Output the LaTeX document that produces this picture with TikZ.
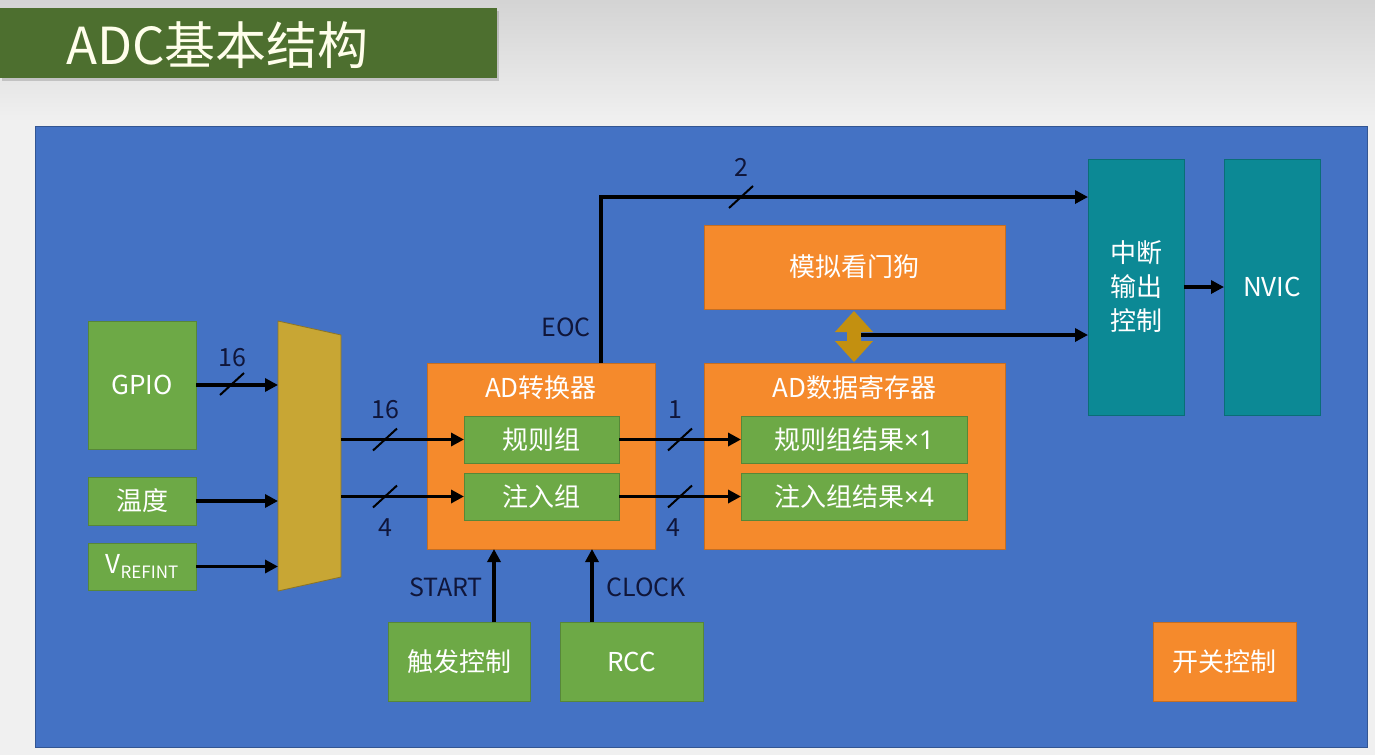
\documentclass[tikz,border=0pt]{standalone}
\usepackage{fontspec}
\setmainfont{Noto Sans CJK SC}
\newfontfamily\latinfont{Noto Sans}
\usetikzlibrary{arrows.meta,shadows}

\definecolor{panelblue}{HTML}{4472C4}
\definecolor{adcgreen}{HTML}{6DA946}
\definecolor{adcorange}{HTML}{F58A2C}
\definecolor{adcteal}{HTML}{0C8995}
\definecolor{muxgold}{HTML}{C8A634}
\definecolor{dblgold}{HTML}{C39010}
\definecolor{titlegreen}{HTML}{4D6F2F}
\definecolor{lbldark}{HTML}{10163A}

\begin{document}
\begin{tikzpicture}[x=1pt,y=-1pt,
  every node/.style={inner sep=0pt, outer sep=0pt, text=white, font=\fontsize{26}{30}\selectfont},
  box/.style={draw=#1!80!black, line width=0.8pt, fill=#1},
  greenbox/.style={box=adcgreen},
  orangebox/.style={box=adcorange},
  tealbox/.style={box=adcteal},
  lbl/.style={text=lbldark, font=\fontsize{25}{30}\selectfont},
  arr/.style={line width=3.8pt, draw=black, -{Triangle[length=13pt,width=13pt]}},
  slashmark/.pic={\draw[line width=2pt, black] (-12,11) -- (12,-11);}]
            \useasboundingbox (0,0) rectangle (1375,755);
            % background and title
            \shade[top color=black!17, bottom color=black!6] (0,0) rectangle (1375,120);
            \fill[black!6] (0,120) rectangle (1375,755);
            \fill[titlegreen, drop shadow={shadow xshift=2pt, shadow yshift=-3pt, opacity=.35}] (0,8) rectangle (497,78);
            \node[anchor=west, text=white!92!yellow, font=\fontsize{51}{55}\selectfont] (title) at (66,45) {ADC基本结构};
            \fill[panelblue, draw=panelblue!75!black, line width=1pt] (35,126) rectangle (1367,747);
            % inputs
            \node[greenbox, minimum width=108, minimum height=128] (gpio) at (142,385) {GPIO};
            \node[greenbox, minimum width=108, minimum height=48] (temp) at (142,501) {温度};
            \node[greenbox, minimum width=108, minimum height=47] (vref) at (142,566.5) {V\raisebox{-5pt}{\fontsize{17}{17}\selectfont REFINT}};
            % multiplexer
            \fill[muxgold, draw=muxgold!70!black, line width=0.8pt] (278,321) -- (341,335) -- (341,577) -- (278,591) -- cycle;
            \coordinate (muxl) at (278,456);
            \coordinate (muxr) at (341,456);
            % converter
            \node[orangebox, minimum width=228, minimum height=186] (conv) at (541,456) {};
            \node (convtitle) at (541,388) {AD转换器};
            \node[greenbox, minimum width=155, minimum height=47] (rule) at (541.5,439.5) {规则组};
            \node[greenbox, minimum width=155, minimum height=47] (inj) at (541.5,496.5) {注入组};
            % data register
            \node[orangebox, minimum width=301, minimum height=186] (reg) at (854.5,456) {};
            \node (regtitle) at (854.5,388) {AD数据寄存器};
            \node[greenbox, minimum width=226, minimum height=47] (ruleres) at (854,439.5) {规则组结果{\latinfont ×1}};
            \node[greenbox, minimum width=226, minimum height=47] (injres) at (854,496.5) {注入组结果{\latinfont ×4}};
            \node[orangebox, minimum width=301, minimum height=84] (wd) at (854.5,267) {模拟看门狗};
            % interrupt
            \node[tealbox, minimum width=96, minimum height=256, align=center, font=\fontsize{26}{34}\selectfont] (ctrl) at (1136,287) {中断\\输出\\控制};
            \node[tealbox, minimum width=96, minimum height=256] (nvic) at (1272,287) {NVIC};
            % bottom row
            \node[greenbox, minimum width=142, minimum height=79] (trig) at (459,661.5) {触发控制};
            \node[greenbox, minimum width=143, minimum height=79] (rcc) at (631.5,661.5) {RCC};
            \node[orangebox, minimum width=143, minimum height=79] (sw) at (1224.5,661.5) {开关控制};
            % watchdog link
            \fill[dblgold] (854,311) -- (873,332) -- (861,332) -- (861,341) -- (873,341) -- (854,362)
                -- (835,341) -- (847,341) -- (847,332) -- (835,332) -- cycle;
            \coordinate (wdout) at (861,335);
            % connectors
            \draw[arr] (gpio.east) -- (gpio.east -| muxl);
            \draw[arr] (temp.east) -- (temp.east -| muxl);
            \draw[arr] (vref.east) -- (vref.east -| muxl);
            \draw[arr] (rule.west -| muxr) -- (rule.west);
            \draw[arr] (inj.west -| muxr) -- (inj.west);
            \draw[arr] (rule.east) -- (ruleres.west);
            \draw[arr] (inj.east) -- (injres.west);
            \draw[arr] ([xshift=60pt]conv.north) |- ([yshift=90pt]ctrl.west);
            \draw[arr] (wdout) -- (wdout -| ctrl.west);
            \draw[arr] (ctrl.east) -- (nvic.west);
            \draw[arr] ([xshift=35pt]trig.north) -- ([xshift=35pt]trig.north |- conv.south);
            \draw[arr] ([xshift=-39.5pt]rcc.north) -- ([xshift=-39.5pt]rcc.north |- conv.south);
            % bus widths
            \pic at (232,384) {slashmark};
            \pic at (385,439.5) {slashmark};
            \pic at (385,496.5) {slashmark};
            \pic at (680,439.5) {slashmark};
            \pic at (680,496.5) {slashmark};
            \pic at (741,197) {slashmark};
            \node[lbl] (n16a) at (232,358) {16};
            \node[lbl] (n16b) at (385,410) {16};
            \node[lbl] (n4a) at (385,528) {4};
            \node[lbl] (n1) at (675,410) {1};
            \node[lbl] (n4b) at (673,528) {4};
            \node[lbl] (n2) at (741,167) {2};
            \node[lbl] (eoc) at (566,327) {EOC};
            \node[lbl] (start) at (446,587) {START};
            \node[lbl] (clock) at (646,587) {CLOCK};
        \end{tikzpicture}
\end{document}
